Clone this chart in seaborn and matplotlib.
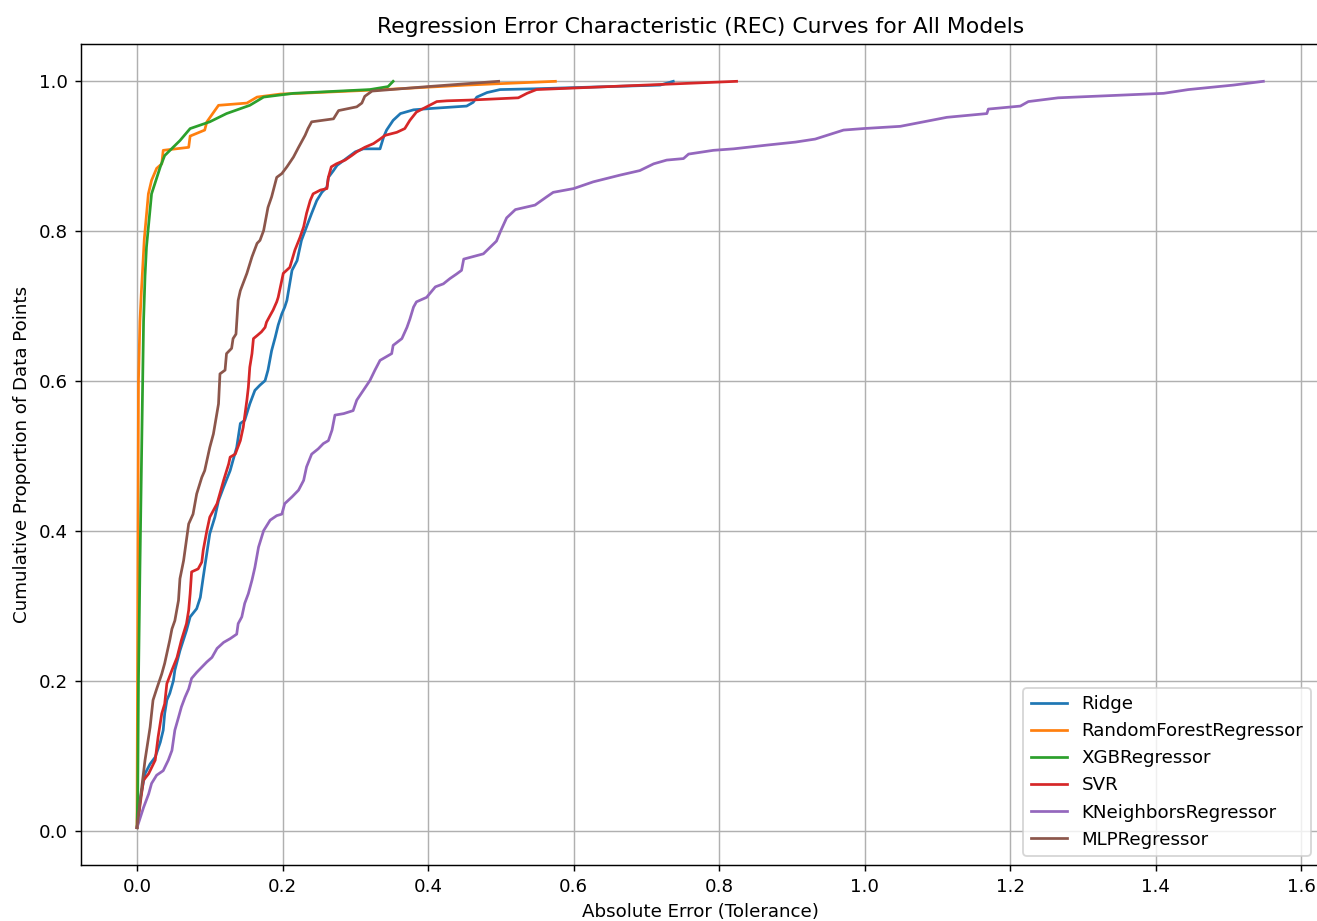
import matplotlib
matplotlib.use("Agg")
import matplotlib.pyplot as plt
import seaborn as sns

# ---- data (tolerance, cumulative proportion) ----
ridge_x = [0.000, 0.004, 0.011, 0.018, 0.025, 0.032, 0.036, 0.038, 0.041, 0.045, 0.050, 0.052, 0.059, 0.068, 0.073,
           0.082, 0.087, 0.091, 0.093, 0.100, 0.107, 0.112, 0.119, 0.128, 0.132, 0.137, 0.142, 0.148, 0.155, 0.162,
           0.169, 0.176, 0.180, 0.185, 0.190, 0.194, 0.199, 0.203, 0.206, 0.213, 0.220, 0.226, 0.233, 0.240, 0.247,
           0.254, 0.261, 0.263, 0.270, 0.275, 0.293, 0.300, 0.311, 0.334, 0.339, 0.343, 0.352, 0.362, 0.380, 0.407,
           0.453, 0.462, 0.467, 0.481, 0.499, 0.545, 0.719, 0.737]
ridge_y = [0.005, 0.041, 0.077, 0.090, 0.099, 0.119, 0.135, 0.157, 0.175, 0.184, 0.201, 0.215, 0.241, 0.268, 0.286,
           0.297, 0.312, 0.339, 0.352, 0.397, 0.419, 0.441, 0.459, 0.481, 0.495, 0.512, 0.544, 0.548, 0.570, 0.588,
           0.595, 0.601, 0.615, 0.641, 0.659, 0.675, 0.690, 0.699, 0.708, 0.748, 0.761, 0.788, 0.806, 0.824, 0.841,
           0.852, 0.859, 0.872, 0.881, 0.888, 0.901, 0.906, 0.910, 0.910, 0.926, 0.935, 0.948, 0.957, 0.962, 0.964,
           0.967, 0.972, 0.979, 0.985, 0.989, 0.990, 0.995, 1.000]

rf_x = [0.000, 0.001, 0.002, 0.004, 0.006, 0.010, 0.0156, 0.020, 0.027, 0.034, 0.036, 0.071, 0.073, 0.093, 0.096,
        0.112, 0.151, 0.165, 0.197, 0.224, 0.339, 0.453, 0.575]
rf_y = [0.005, 0.300, 0.600, 0.680, 0.720, 0.790, 0.850, 0.868, 0.884, 0.890, 0.908, 0.912, 0.927, 0.935, 0.946,
        0.968, 0.971, 0.979, 0.983, 0.984, 0.989, 0.995, 1.000]

xgb_x = [0.000, 0.001, 0.002, 0.004, 0.007, 0.009, 0.011, 0.013, 0.020, 0.032, 0.038, 0.059, 0.073, 0.100, 0.123,
         0.155, 0.174, 0.215, 0.320, 0.345, 0.352]
xgb_y = [0.005, 0.050, 0.200, 0.350, 0.550, 0.680, 0.740, 0.779, 0.850, 0.886, 0.901, 0.921, 0.937, 0.946, 0.957,
         0.968, 0.979, 0.984, 0.989, 0.993, 1.000]

svr_x = [0.000, 0.0087, 0.016, 0.025, 0.029, 0.034, 0.038, 0.041, 0.048, 0.055, 0.061, 0.068, 0.071, 0.073, 0.075,
         0.084, 0.089, 0.091, 0.096, 0.100, 0.110, 0.119, 0.126, 0.128, 0.135, 0.142, 0.146, 0.151, 0.153, 0.155,
         0.158, 0.160, 0.165, 0.171, 0.176, 0.178, 0.183, 0.187, 0.192, 0.194, 0.201, 0.210, 0.217, 0.224, 0.229,
         0.233, 0.238, 0.242, 0.252, 0.261, 0.263, 0.267, 0.274, 0.286, 0.295, 0.302, 0.313, 0.325, 0.334, 0.341,
         0.357, 0.368, 0.375, 0.384, 0.394, 0.412, 0.426, 0.458, 0.524, 0.536, 0.549, 0.824]
svr_y = [0.005, 0.068, 0.077, 0.095, 0.126, 0.157, 0.170, 0.197, 0.215, 0.232, 0.255, 0.277, 0.295, 0.317, 0.346,
         0.350, 0.359, 0.375, 0.401, 0.419, 0.437, 0.468, 0.490, 0.499, 0.503, 0.521, 0.539, 0.575, 0.592, 0.619,
         0.637, 0.657, 0.661, 0.666, 0.672, 0.679, 0.688, 0.695, 0.706, 0.712, 0.744, 0.752, 0.775, 0.792, 0.806,
         0.824, 0.841, 0.850, 0.855, 0.857, 0.872, 0.886, 0.890, 0.895, 0.901, 0.906, 0.912, 0.917, 0.923, 0.928,
         0.932, 0.937, 0.948, 0.959, 0.964, 0.973, 0.974, 0.975, 0.978, 0.984, 0.989, 1.000]

knn_x = [0.000, 0.009, 0.016, 0.020, 0.027, 0.036, 0.043, 0.048, 0.052, 0.057,
         0.061, 0.066, 0.071, 0.075, 0.082, 0.089, 0.096, 0.103, 0.110, 0.119,
         0.128, 0.137, 0.139, 0.144, 0.148, 0.153, 0.158, 0.162, 0.167, 0.174,
         0.183, 0.192, 0.199, 0.203, 0.213, 0.222, 0.229, 0.233, 0.240, 0.249,
         0.256, 0.263, 0.268, 0.272, 0.284, 0.297, 0.302, 0.311, 0.320, 0.327,
         0.334, 0.350, 0.352, 0.364, 0.371, 0.375, 0.380, 0.384, 0.398, 0.410,
         0.421, 0.430, 0.439, 0.446, 0.449, 0.476, 0.494, 0.500, 0.508, 0.520,
         0.547, 0.563, 0.572, 0.600, 0.627, 0.664, 0.691, 0.710, 0.728, 0.751,
         0.758, 0.792, 0.820, 0.866, 0.905, 0.932, 0.971, 0.998, 1.049, 1.113,
         1.168, 1.170, 1.214, 1.225, 1.266, 1.411, 1.445, 1.507, 1.548]
knn_y = [0.005, 0.032, 0.050, 0.064, 0.075, 0.081, 0.095, 0.108, 0.135, 0.152,
         0.166, 0.179, 0.190, 0.204, 0.212, 0.219, 0.226, 0.232, 0.244, 0.252,
         0.257, 0.263, 0.277, 0.286, 0.304, 0.317, 0.335, 0.352, 0.379, 0.401,
         0.415, 0.421, 0.423, 0.437, 0.446, 0.455, 0.468, 0.486, 0.503, 0.510,
         0.517, 0.521, 0.535, 0.555, 0.557, 0.561, 0.575, 0.588, 0.601, 0.615,
         0.628, 0.637, 0.648, 0.657, 0.672, 0.683, 0.699, 0.706, 0.712, 0.726,
         0.730, 0.737, 0.743, 0.748, 0.763, 0.770, 0.787, 0.801, 0.818, 0.829,
         0.835, 0.846, 0.852, 0.857, 0.866, 0.875, 0.881, 0.890, 0.895, 0.897,
         0.903, 0.908, 0.910, 0.915, 0.919, 0.923, 0.935, 0.937, 0.940, 0.952,
         0.957, 0.963, 0.967, 0.973, 0.978, 0.984, 0.989, 0.995, 1.000]

mlp_x = [0.000, 0.006, 0.011, 0.018, 0.022, 0.027, 0.034, 0.038, 0.045, 0.048, 0.052, 0.057, 0.059, 0.064, 0.071,
         0.077, 0.082, 0.089, 0.093, 0.100, 0.105, 0.112, 0.114, 0.121, 0.123, 0.130, 0.132, 0.136, 0.139, 0.142,
         0.151, 0.158, 0.165, 0.169, 0.174, 0.180, 0.185, 0.192, 0.199, 0.206, 0.215, 0.222, 0.231, 0.235, 0.240,
         0.270, 0.277, 0.302, 0.309, 0.313, 0.323, 0.400, 0.497]
mlp_y = [0.005, 0.055, 0.095, 0.139, 0.175, 0.190, 0.210, 0.224, 0.255, 0.270, 0.281, 0.308, 0.337, 0.361, 0.410,
         0.423, 0.450, 0.472, 0.481, 0.512, 0.530, 0.570, 0.610, 0.615, 0.637, 0.644, 0.657, 0.663, 0.708, 0.721,
         0.744, 0.766, 0.784, 0.788, 0.801, 0.832, 0.846, 0.872, 0.877, 0.886, 0.899, 0.912, 0.928, 0.937, 0.946,
         0.950, 0.961, 0.966, 0.971, 0.980, 0.987, 0.993, 1.000]

model_names = ["Ridge", "RandomForestRegressor", "XGBRegressor", "SVR", "KNeighborsRegressor", "MLPRegressor"]
series = [(ridge_x, ridge_y), (rf_x, rf_y), (xgb_x, xgb_y), (svr_x, svr_y), (knn_x, knn_y), (mlp_x, mlp_y)]

title = "Regression Error Characteristic (REC) Curves for All Models"
xlabel = "Absolute Error (Tolerance)"
ylabel = "Cumulative Proportion of Data Points"

# ---- figure ----
DPI = 131
fig = plt.figure(figsize=(1317 / DPI, 921 / DPI), dpi=DPI)
ax = fig.add_axes([80.7 / 1317, (921 - 865) / 921, 1239 / 1317, 821 / 921])

palette = sns.color_palette("tab10", 10)
for i, (name, (xs, ys)) in enumerate(zip(model_names, series)):
    sns.lineplot(x=xs, y=ys, ax=ax, label=name, color=palette[i],
                 estimator=None, sort=False, linewidth=1.5)

ax.set_title(title)
ax.set_xlabel(xlabel)
ax.set_ylabel(ylabel)
ax.grid(True)
# the reference image is cropped just before the right spine
ax.spines["right"].set_visible(False)
ax.legend(loc="lower right")

fig.savefig("out.png", dpi=DPI)
